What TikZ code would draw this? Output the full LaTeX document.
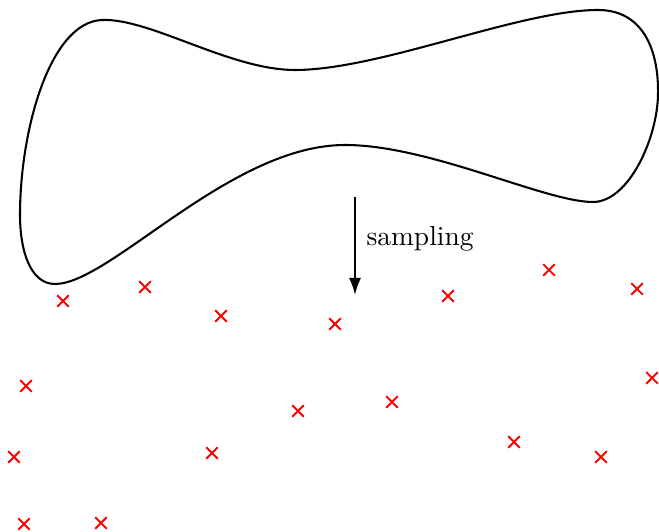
\documentclass[tikz,border=0pt]{standalone}
\usetikzlibrary{arrows.meta,shapes.misc}
\begin{document}
\begin{tikzpicture}[x=0.364pt,y=-0.364pt,
  blob/.style={line width=0.75pt},
  sample/.style={cross out,draw=red,line width=0.65pt,minimum size=3.6pt,inner sep=0pt},
  samplearrow/.style={line width=0.75pt,-{Latex[length=6.2pt,width=4.4pt]}}]
\useasboundingbox (0,0) rectangle (659,532);
\draw[blob] (20,215) .. controls (20,130) and (50,22) .. (102,20)
  .. controls (150,18) and (230,70) .. (295,70)
  .. controls (380,70) and (520,10) .. (598,10)
  .. controls (643,10) and (659,50) .. (658,95)
  .. controls (657,140) and (628,202) .. (593,202)
  .. controls (545,202) and (430,145) .. (345,145)
  .. controls (230,145) and (110,284) .. (55,284)
  .. controls (30,284) and (20,250) .. (20,215) -- cycle;
\coordinate (a0) at (355,197);
\coordinate (a1) at (355,295);
\draw[samplearrow] (a0) -- (a1);
\node[anchor=west,inner sep=0pt] (lab) at (366,239) {sampling};
\foreach \p/\q [count=\i] in {63/301,145/287,221/316,335/324,448/296,549/270,637/289,
  26/386,652/378,298/411,392/402,14/457,212/453,514/442,601/457,24/524,101/523}
  \node[sample] (s\i) at (\p,\q) {};
\end{tikzpicture}
\end{document}
